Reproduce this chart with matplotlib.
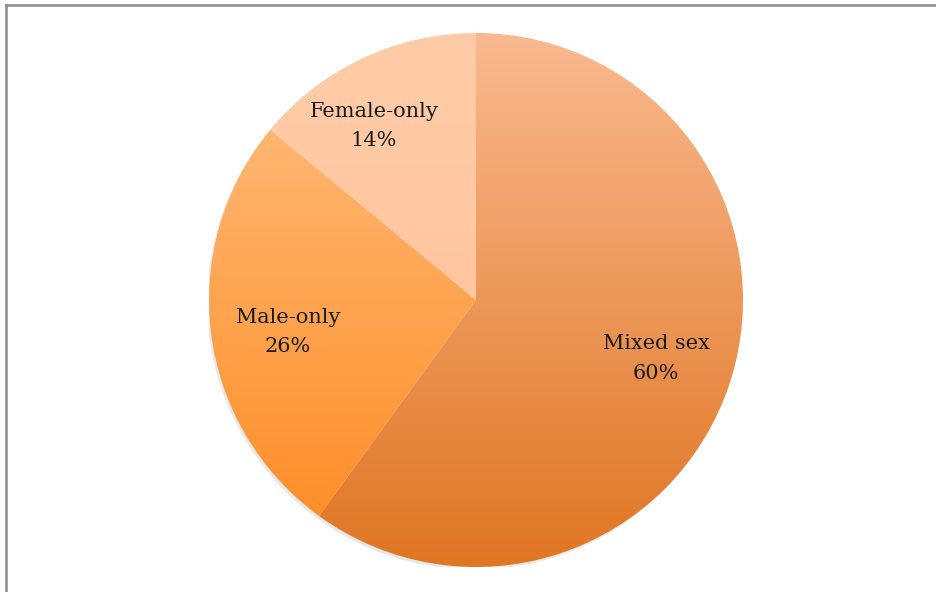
import numpy as np
import matplotlib
matplotlib.use("Agg")
import matplotlib.pyplot as plt
from matplotlib.colors import LinearSegmentedColormap
from matplotlib.lines import Line2D

# School types by share of pupils
categories = ["Mixed sex", "Male-only", "Female-only"]
shares = [60, 26, 14]
# gradient colours per slice: (top, bottom)
top_colors = ["#FAB98F", "#FFB671", "#FFCCA8"]
bottom_colors = ["#DF7623", "#FE8F29", "#FFC6A0"]

W, H = 936, 592
fig = plt.figure(figsize=(W / 100, H / 100), dpi=100)

# pie centred at (476, 300) px with radius 267 px
cx, cy, r = 476, 300, 267
ax = fig.add_axes([(cx - r) / W, (H - cy - r) / H, 2 * r / W, 2 * r / H])

labels = [f"{c}\n{s}%" for c, s in zip(categories, shares)]
wedges, texts = ax.pie(shares, labels=labels, startangle=90, counterclock=False,
                       labeldistance=0.71, radius=1,
                       wedgeprops=dict(linewidth=0),
                       textprops=dict(family="DejaVu Serif", fontsize=15,
                                      color="#1a1a1a", ha="center", va="center",
                                      linespacing=1.7))

# vertical gradient fill clipped to each wedge
for w, c0, c1 in zip(wedges, top_colors, bottom_colors):
    w.set_facecolor("none")
    ext = w.get_path().get_extents()
    cmap = LinearSegmentedColormap.from_list("g", [c0, c1])
    grad = np.linspace(0, 1, 256).reshape(-1, 1)
    im = ax.imshow(grad, cmap=cmap, aspect="auto", origin="upper",
                   extent=[ext.x0, ext.x1, ext.y0, ext.y1], zorder=0.5,
                   interpolation="bilinear")
    im.set_clip_path(w)

# faint shadow along the lower-left rim
shadow = plt.Circle((-0.007, -0.010), 1.0, color="#000000", alpha=0.09,
                    zorder=0.2, linewidth=0)
ax.add_patch(shadow)

for t in texts:
    t.set_zorder(5)
# small nudges so labels sit where they read best
x, y = texts[1].get_position()
texts[1].set_position((x, y - 0.03))
x, y = texts[2].get_position()
texts[2].set_position((x - 0.08, y + 0.01))

ax.set_xlim(-1, 1)
ax.set_ylim(-1, 1)
ax.set_aspect("equal")
ax.axis("off")

# chart frame (top and left edges visible)
fig.add_artist(Line2D([6 / W, 1], [1 - 5 / H, 1 - 5 / H], color="#8c8c8c", lw=1.8))
fig.add_artist(Line2D([6 / W, 6 / W], [0, 1 - 5 / H], color="#8c8c8c", lw=1.8))

fig.savefig("out.png", dpi=100)
